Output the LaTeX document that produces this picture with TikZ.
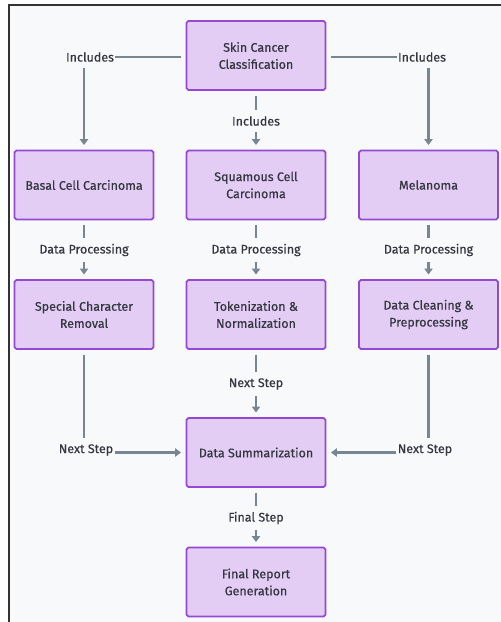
\documentclass[tikz,border=0pt]{standalone}
\usepackage{fontspec}
\setmainfont{Fira Sans}[FakeBold=0.4]
\usetikzlibrary{arrows.meta}
\definecolor{fond}{RGB}{248,249,250}
\definecolor{boite}{RGB}{227,205,245}
\definecolor{bord}{RGB}{150,72,212}
\definecolor{trait}{RGB}{120,134,146}
\definecolor{texte}{RGB}{52,54,64}
\begin{document}
\begin{tikzpicture}[x=0.85pt,y=-0.85pt,font=\fontsize{10.6}{14.5}\selectfont,text=texte]
    \tikzstyle{etape}=[draw=bord,fill=boite,line width=1.5pt,rounded corners=1.5pt,minimum width=118pt,minimum height=58.5pt,align=center]
    \tikzstyle{annot}=[fill=fond,inner sep=1pt]
    \tikzstyle{ligne}=[draw=trait,line width=2pt]
    \tikzstyle{fleche}=[ligne,-{Triangle[width=7pt,length=5pt]}]

% Cadre
\useasboundingbox (0,0) rectangle (501,622);
\fill[fond] (9,5) rectangle (501,622);
\draw[black!80,line width=1.2pt] (501,5) -- (9,5) -- (9,622);

% Boites
\node[etape] (skin) at (256,55.5) {Skin Cancer\\Classification};

\node[etape] (basal) at (84,185) {Basal Cell Carcinoma};
\node[etape] (squam) at (256,185) {Squamous Cell\\Carcinoma};
\node[etape] (mela) at (428.5,185) {Melanoma};

\node[etape] (special) at (84,314.5) {Special Character\\Removal};
\node[etape] (token) at (256,314.5) {Tokenization \&\\Normalization};
\node[etape] (clean) at (428.5,314.5) {Data Cleaning \&\\Preprocessing};

\node[etape] (summ) at (256,452.5) {Data Summarization};
\node[etape] (final) at (256,582) {Final Report\\Generation};

% Etiquettes
\node[annot] (inc-l) at (90,57) {Includes};
\node[annot] (inc-m) at (256,121) {Includes};
\node[annot] (inc-r) at (422,57) {Includes};

\node[annot] (dp-l) at (84,250) {Data Processing};
\node[annot] (dp-m) at (256,250) {Data Processing};
\node[annot] (dp-r) at (428.5,250) {Data Processing};

\node[annot] (ns-l) at (86,450) {Next Step};
\node[annot] (ns-m) at (256,384) {Next Step};
\node[annot] (ns-r) at (425,450) {Next Step};

\node[annot] (fs) at (256,518) {Final Step};

% Arretes
\draw[ligne,shorten <=4pt] (skin.west |- inc-l) -- (inc-l);
\draw[fleche,shorten <=4pt,shorten >=4pt] (inc-l.south -| basal) -- (basal);
\draw[ligne,shorten <=4pt,shorten >=4pt] (skin) -- (inc-m);
\draw[fleche,shorten <=4pt,shorten >=4pt] (inc-m) -- (squam);
\draw[ligne,shorten <=4pt] (skin.east |- inc-r) -- (inc-r);
\draw[fleche,shorten <=4pt,shorten >=4pt] (inc-r.south -| mela) -- (mela);

\foreach \a/\l/\b in {basal/dp-l/special,squam/dp-m/token,mela/dp-r/clean}{
  \draw[ligne,shorten <=4pt,shorten >=4pt] (\a) -- (\l);
  \draw[fleche,shorten <=4pt,shorten >=4pt] (\l) -- (\b);
}

\draw[ligne,shorten <=4pt,shorten >=4pt] (special) -- (special |- ns-l.north);
\draw[fleche,shorten >=4pt] (ns-l.east |- summ) -- (summ);
\draw[ligne,shorten <=4pt,shorten >=4pt] (token) -- (ns-m);
\draw[fleche,shorten <=4pt,shorten >=4pt] (ns-m) -- (summ);
\draw[ligne,shorten <=4pt,shorten >=4pt] (clean) -- (clean |- ns-r.north);
\draw[fleche,shorten >=4pt] (ns-r.west |- summ) -- (summ);

\draw[ligne,shorten <=4pt,shorten >=4pt] (summ) -- (fs);
\draw[fleche,shorten <=4pt,shorten >=4pt] (fs) -- (final);

\end{tikzpicture}
\end{document}
